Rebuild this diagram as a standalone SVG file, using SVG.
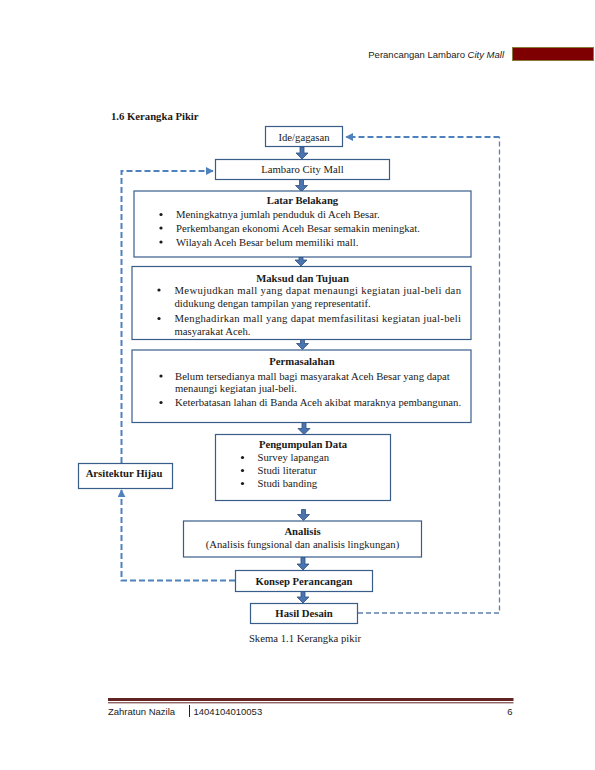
<svg xmlns="http://www.w3.org/2000/svg" width="595" height="770" viewBox="0 0 595 770">
<style>
.bx{fill:#ffffff;stroke:#385d8a;stroke-width:1.2}
.t{font-family:"Liberation Serif","Times New Roman",serif;font-size:10.7px;fill:#1a1a1a}
.b{font-weight:bold}
.m{text-anchor:middle}
.s{font-family:"Liberation Sans",Arial,sans-serif;font-size:9.5px;fill:#222}
.ba{fill:#4a74b0;stroke:#2e4f7d;stroke-width:0.8}
.dash{fill:none;stroke:#4f81bd;stroke-width:2;stroke-dasharray:6,3}
.dash2{fill:none;stroke:#5f7fae;stroke-width:1.3;stroke-dasharray:5,3}
</style>
<defs>
<marker id="ah" viewBox="0 0 10 10" refX="9" refY="5" markerWidth="4" markerHeight="4" orient="auto" markerUnits="strokeWidth">
<path d="M0,0 L10,5 L0,10 z" fill="#4f81bd"/>
</marker>
</defs>
<rect width="595" height="770" fill="#ffffff"/>

<g id="header">
<text class="s" x="504" y="57.5" text-anchor="end">Perancangan Lambaro <tspan font-style="italic">City Mall</tspan></text>
<rect x="512.5" y="47.5" width="81" height="13" fill="#7f0000" stroke="#8a7a3a" stroke-width="1"/>
</g>

<text class="t b" x="111" y="120" font-size="12px">1.6 Kerangka Pikir</text>

<g id="connectors">
<path class="ba" d="M300,147 h4 v6 h4 l-6,6 l-6,-6 h4 z"/>
<path class="ba" d="M299.5,179.5 h4 v6 h4 l-6,6 l-6,-6 h4 z"/>
<path class="ba" d="M299,257 h4 v3 h4 l-6,6 l-6,-6 h4 z"/>
<path class="ba" d="M300.5,339.5 h4 v4 h4 l-6,6 l-6,-6 h4 z"/>
<path class="ba" d="M302,422.5 h4 v6 h4 l-6,6 l-6,-6 h4 z"/>
<path class="ba" d="M301.5,509.5 h4 v5 h4 l-6,6 l-6,-6 h4 z"/>
<path class="ba" d="M301,557 h4 v7 h4 l-6,6 l-6,-6 h4 z"/>
<path class="ba" d="M301,591.5 h4 v5.5 h4 l-6,6 l-6,-6 h4 z"/>
<path class="dash" d="M235,580.5 H121.5 V490" marker-end="url(#ah)"/>
<path class="dash" d="M121.5,463 V171 H213" marker-end="url(#ah)"/>
<path class="dash2" d="M358,613 H499.5 V137"/>
<path class="dash" d="M499.5,137 H346" marker-end="url(#ah)"/>
</g>

<g id="ide">
<rect class="bx" x="265.5" y="126.5" width="77" height="20"/>
<text class="t m" x="304" y="140.5">Ide/gagasan</text>
</g>

<g id="lambaro">
<rect class="bx" x="215.5" y="159.5" width="174" height="20"/>
<text class="t m" x="302.5" y="173">Lambaro City Mall</text>
</g>

<g id="latar">
<rect class="bx" x="134" y="191" width="337" height="66"/>
<text class="t b m" x="302.5" y="203.5">Latar Belakang</text>
<circle cx="161" cy="214.5" r="1.6" fill="#1a1a1a"/>
<circle cx="161" cy="228" r="1.6" fill="#1a1a1a"/>
<circle cx="161" cy="242" r="1.6" fill="#1a1a1a"/>
<text class="t" x="176" y="218">Meningkatnya jumlah penduduk di Aceh Besar.</text>
<text class="t" x="176" y="231.5">Perkembangan ekonomi Aceh Besar semakin meningkat.</text>
<text class="t" x="176" y="245.5">Wilayah Aceh Besar belum memiliki mall.</text>
</g>

<g id="maksud">
<rect class="bx" x="132" y="266.5" width="339" height="73"/>
<text class="t b m" x="302.5" y="282">Maksud dan Tujuan</text>
<circle cx="159" cy="290" r="1.6" fill="#1a1a1a"/>
<circle cx="159" cy="318.5" r="1.6" fill="#1a1a1a"/>
<text class="t" x="174.5" y="293.5" textLength="286.5" lengthAdjust="spacing">Mewujudkan mall yang dapat menaungi kegiatan jual-beli dan</text>
<text class="t" x="174.5" y="306.5">didukung dengan tampilan yang representatif.</text>
<text class="t" x="174.5" y="322" textLength="286.5" lengthAdjust="spacing">Menghadirkan mall yang dapat memfasilitasi kegiatan jual-beli</text>
<text class="t" x="174.5" y="335">masyarakat Aceh.</text>
</g>

<g id="permasalahan">
<rect class="bx" x="132" y="350" width="339" height="72.5"/>
<text class="t b m" x="302" y="364.5">Permasalahan</text>
<circle cx="161" cy="376" r="1.6" fill="#1a1a1a"/>
<circle cx="161" cy="402.5" r="1.6" fill="#1a1a1a"/>
<text class="t" x="175" y="379.5">Belum tersedianya mall bagi masyarakat Aceh Besar yang dapat</text>
<text class="t" x="175" y="392">menaungi kegiatan jual-beli.</text>
<text class="t" x="175" y="406">Keterbatasan lahan di Banda Aceh akibat maraknya pembangunan.</text>
</g>

<g id="pengumpulan">
<rect class="bx" x="215.5" y="434.5" width="175" height="66"/>
<text class="t b m" x="303" y="448">Pengumpulan Data</text>
<circle cx="242.5" cy="457.5" r="1.6" fill="#1a1a1a"/>
<circle cx="242.5" cy="470.5" r="1.6" fill="#1a1a1a"/>
<circle cx="242.5" cy="483.5" r="1.6" fill="#1a1a1a"/>
<text class="t" x="257.5" y="461">Survey lapangan</text>
<text class="t" x="257.5" y="474">Studi literatur</text>
<text class="t" x="257.5" y="487">Studi banding</text>
</g>

<g id="arsitektur">
<rect class="bx" x="78.5" y="463.5" width="94" height="25"/>
<text class="t b m" x="124" y="477">Arsitektur Hijau</text>
</g>

<g id="analisis">
<rect class="bx" x="183.5" y="521" width="238" height="36"/>
<text class="t b m" x="302.5" y="535">Analisis</text>
<text class="t m" x="302.5" y="547.5">(Analisis fungsional dan analisis lingkungan)</text>
</g>

<g id="konsep">
<rect class="bx" x="235.5" y="570.5" width="137" height="21"/>
<text class="t b m" x="304" y="584.5">Konsep Perancangan</text>
</g>

<g id="hasil">
<rect class="bx" x="250.5" y="603.5" width="107" height="20"/>
<text class="t b m" x="304" y="616.5">Hasil Desain</text>
</g>

<text class="t m" x="305" y="641.5" font-size="9.5px">Skema 1.1 Kerangka pikir</text>

<g id="footer">
<rect x="108" y="698" width="405.5" height="3" fill="#622423"/>
<rect x="108" y="702.3" width="405.5" height="1" fill="#622423"/>
<text class="s" x="108" y="714.5">Zahratun Nazila</text>
<line x1="189.5" y1="705" x2="189.5" y2="717" stroke="#222" stroke-width="1"/>
<text class="s" x="193.5" y="714.5">1404104010053</text>
<text class="s" x="512.5" y="714.5" text-anchor="end">6</text>
</g>
</svg>
